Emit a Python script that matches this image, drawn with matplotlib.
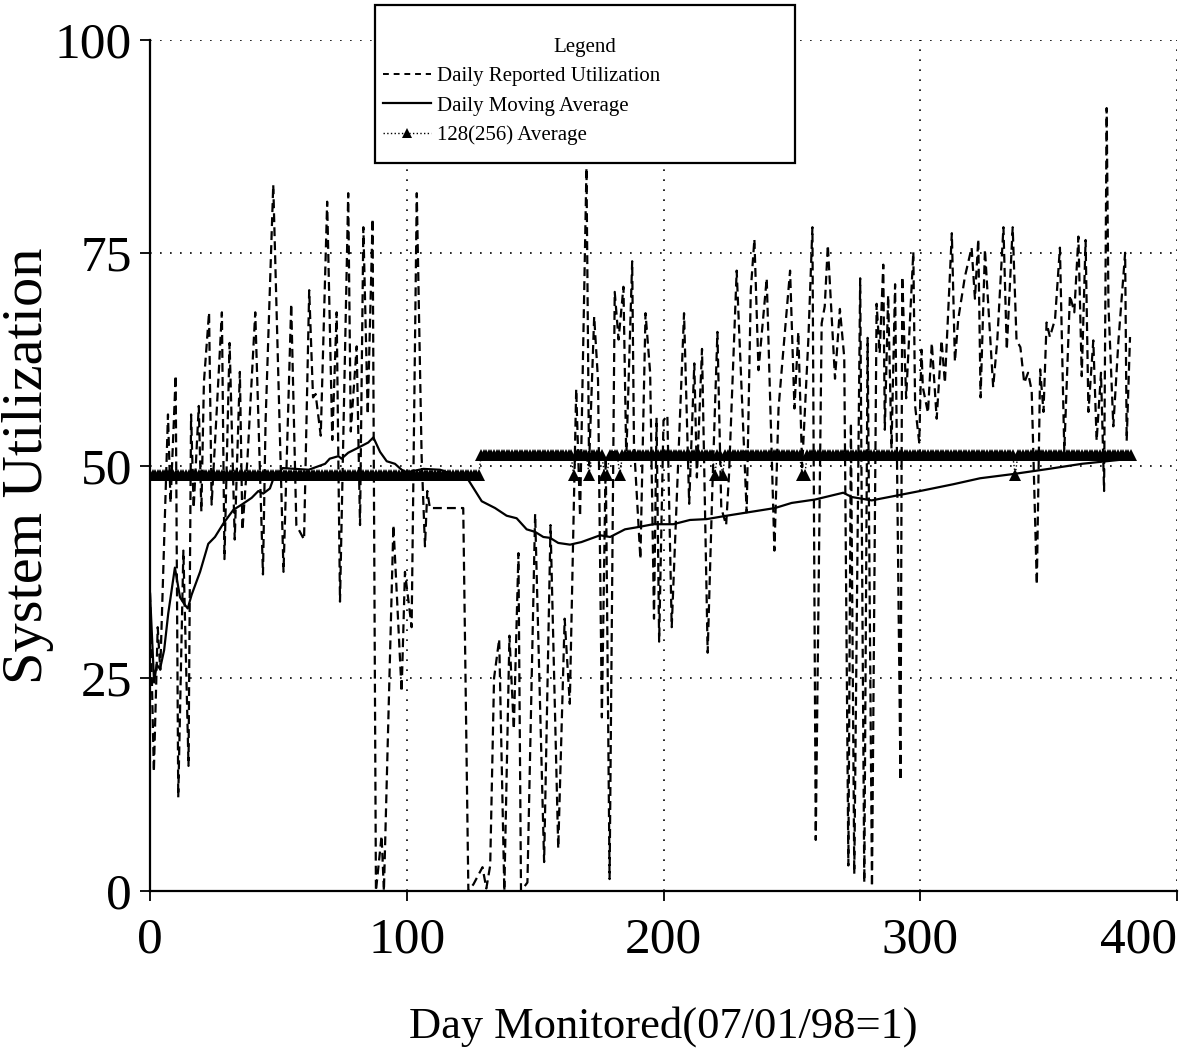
import numpy as np
import matplotlib.pyplot as plt
from matplotlib.lines import Line2D
from matplotlib.patches import Rectangle

plt.rcParams['font.family'] = ['Liberation Serif', 'DejaVu Serif']

# ------------------------------------------------------------------
# Data (day, % utilization)
# ------------------------------------------------------------------

# Daily reported utilization (turning points of the dashed trace)
daily_days = [0, 1.5, 3, 4, 7, 8, 10, 11, 13, 15, 16, 17, 19, 20, 21, 23, 24, 26, 28, 29,
              31, 33, 35, 36, 38, 41, 44, 45, 48, 52, 55, 57, 60, 62, 63.5, 64.5, 66.5, 69,
              71, 72.7, 74, 77.2, 78.2, 80.5, 81.8, 83.1, 84.8, 86.7, 88, 90.2, 91.1, 94.8,
              98, 99.3, 101.9, 103.9, 105.8, 107.1, 108, 109, 122, 124, 126, 129.5, 131,
              132.5, 134, 136, 138, 140, 141.7, 143.5, 144.5, 147, 150, 153.5, 156, 159,
              161.5, 163.5, 166, 167.5, 170, 171, 173, 174.5, 176, 177.5, 179, 181, 182.5,
              184.4, 185.5, 187.8, 188.5, 191, 193, 194.8, 196.3, 197.3, 198.3, 200, 201.5,
              203.2, 208, 210, 212, 213, 215, 217.2, 219, 221, 222.5, 224.4, 225.5, 228.5,
              232.4, 234, 235.4, 237, 240.2, 243.2, 244.8, 246.3, 249.3, 251, 252.5, 254,
              256.4, 258, 259.3, 261.6, 262.8, 264, 266.8, 268.7, 270.4, 272, 273, 274.3,
              276.6, 278.2, 279.5, 281.2, 283, 284.2, 285.6, 286.2, 287.5, 288.8, 290.2,
              292.3, 293, 294.5, 297.3, 298, 299.6, 300.5, 301, 303, 304.5, 306.4, 308.3,
              309.6, 312.3, 313.5, 314.8, 317.4, 320, 321.3, 322.6, 323.5, 325.2, 328.4,
              330, 332.4, 333.7, 336, 337.5, 339, 340.5, 342, 343.4, 345.4, 346.7, 348,
              349.2, 350.5, 352.5, 354.4, 356.1, 358.3, 360, 361.6, 362.9, 364.4, 365.5,
              367.4, 368.7, 370.4, 371.6, 372.6, 373.3, 375.2, 377.2, 379.8, 380.4, 381.7]
daily_util = [35, 14, 31, 26, 56, 45.6, 60.6, 11, 40, 14.7, 56, 45, 57, 44.6, 59.8, 68, 45.4,
              56.5, 68, 39, 64.4, 41.3, 61, 42.4, 51, 68, 37.2, 55, 83, 37.5, 69, 43, 41.3,
              70.6, 58, 58.4, 53.5, 81, 53, 68, 34, 82, 54, 64, 43, 78, 56, 79, 0, 6.5, 0,
              43, 23.4, 37.5, 31, 82, 51, 40.5, 47, 45, 45, 0, 0.8, 2.8, 0.3, 3, 25, 29.6,
              0, 30, 19, 39.7, 0, 1, 44.3, 3.4, 43, 5, 32, 22, 59, 44, 85, 50, 67.5, 60,
              20.4, 51, 1.4, 70.4, 64.8, 71, 50.8, 74, 52.5, 39, 67.9, 60.9, 32, 55.6, 29.3,
              55.3, 55.9, 31, 67.9, 45.5, 62, 48.6, 63.7, 28, 47, 65.7, 45, 43, 48.8, 72.9,
              44.5, 70.6, 76.6, 61.2, 72, 40, 56.7, 62.2, 72.9, 56.7, 65.7, 49.8, 64.7, 78,
              6, 66.7, 68.7, 75.9, 60.2, 68.4, 62.7, 3, 55, 2, 72, 1, 65, 0.5, 69, 63.2,
              73.6, 54.2, 70, 52, 71.3, 13, 72.2, 57.9, 75.1, 57, 52.7, 63.6, 59.2, 56.2,
              64.4, 55.5, 64.7, 59.7, 77.3, 62.2, 67.2, 72.2, 75.6, 69.6, 76.6, 58, 75.4,
              59.2, 64.7, 78, 63.6, 78, 64.7, 63.9, 59.7, 60.9, 58.8, 36, 61.3, 56.3, 66.8,
              65.1, 67.2, 75.6, 51.7, 70, 68, 76.9, 60.5, 76.5, 56.3, 64.7, 52.9, 60.9, 47,
              92, 68.9, 54.6, 64.7, 75, 52.9, 65.1]

# Daily moving average (solid trace)
mavg_days = [0, 1.6, 2.6, 3.9, 5.5, 7.1, 9.7, 11.7, 13.4, 14.7, 16.2, 19.5, 22.7, 25.3,
             28.6, 32.5, 35.7, 39.6, 42.2, 44.1, 46.7, 48, 51.7, 61.8, 68.2, 70, 73.4, 74.6,
             77.2, 81.8, 85, 87, 89.6, 92.2, 95.4, 98, 100, 106.5, 113, 124, 129.2, 134.4,
             138.9, 142.8, 146.7, 150, 153.2, 155.8, 159, 163.6, 168, 175.3, 179.2, 185,
             190.8, 196, 203.8, 210.3, 216.8, 224.6, 243.4, 249.9, 259, 270, 273.3, 281.1,
             299.9, 312.9, 323.3, 336.3, 350, 363, 382]
mavg_util = [35, 24.5, 26.6, 26.1, 28.3, 32.6, 38, 34.5, 33.7, 33.2, 34.8, 37.5, 40.8, 41.6,
             43.2, 44.8, 45.4, 46.2, 47, 46.7, 47.3, 48.4, 49.7, 49.5, 50.2, 50.8, 51.1, 50.8,
             51.5, 52.2, 52.7, 53.3, 51.6, 50.5, 50.2, 49.5, 49.2, 49.6, 49.5, 48.3, 45.8, 45,
             44.1, 43.8, 42.5, 42.2, 41.6, 41.5, 40.9, 40.7, 41, 41.8, 41.6, 42.5, 42.8, 43.1,
             43.1, 43.6, 43.7, 44.1, 45, 45.6, 46, 46.8, 46.3, 45.9, 47, 47.8, 48.5, 49,
             49.6, 50.2, 50.8]

# 128(256) average: one level per window, some days sit at the lower level
long_avg_windows = [(0, 128, 48.9), (129, 382, 51.2)]
long_avg_dip_days = [165, 171, 177, 178, 183, 220, 223, 254, 255, 337]
long_avg_dip_value = 48.9

lavg_days, lavg_vals = [], []
for start, end, level in long_avg_windows:
    for d in range(start, end + 1):
        lavg_days.append(d)
        lavg_vals.append(long_avg_dip_value if d in long_avg_dip_days else level)

# ------------------------------------------------------------------
# Plot
# ------------------------------------------------------------------
W, H = 1187, 1064
fig = plt.figure(figsize=(W / 100, H / 100), dpi=100)
ax = fig.add_axes([150 / W, 173 / H, 1027 / W, 851 / H])

dash = (0, (4, 2.3))
ax.plot(daily_days, daily_util, color='black', lw=1.6, ls=dash)
ax.plot(mavg_days, mavg_util, color='black', lw=1.6)
ax.plot(lavg_days, lavg_vals, color='black', lw=1, ls=':', marker='^', ms=8, mew=0)

ax.set_xlim(0, 400)
ax.set_ylim(0, 100)
ax.set_xticks([0, 100, 200, 300, 400])
ax.set_yticks([0, 25, 50, 75, 100])
ax.grid(True, color='black', lw=1.2, ls=(0, (1, 5)))
ax.tick_params(direction='out', length=7, width=1.3, labelsize=37, pad=6)
ax.tick_params(axis='x', pad=12)
ax.get_xticklabels()[-1].set_horizontalalignment('right')
for s in ['top', 'right']:
    ax.spines[s].set_visible(False)
for s in ['left', 'bottom']:
    ax.spines[s].set_linewidth(1.6)

ax.set_xlabel('Day Monitored(07/01/98=1)', fontsize=32, labelpad=30)
ax.set_ylabel('System Utilization', fontsize=42)
ax.yaxis.set_label_coords(-96 / 1027, 0.5)

# legend box (drawn separately so the padding can follow the original)
fig.patches.append(Rectangle((375 / W, (H - 163) / H), 420 / W, 158 / H,
                             transform=fig.transFigure, facecolor='white',
                             edgecolor='black', lw=1.6, zorder=5))
handles = [Line2D([], [], color='black', lw=1.4, ls=(0, (3, 2.5))),
           Line2D([], [], color='black', lw=1.6),
           Line2D([], [], color='black', lw=1, ls=':', marker='^', ms=7, mew=0)]
labels = ['Daily Reported Utilization', 'Daily Moving Average', '128(256) Average']
leg = fig.legend(handles, labels, title='Legend', loc='upper left',
                 bbox_to_anchor=(383 / W, (H - 163) / H, 404 / W, 125 / H),
                 bbox_transform=fig.transFigure, mode='expand', frameon=False,
                 fontsize=15, title_fontsize=15, handlelength=2.3, handletextpad=0.3,
                 borderpad=0, labelspacing=0.47, borderaxespad=0)
leg.set_zorder(6)

fig.savefig('out.png', dpi=100)
